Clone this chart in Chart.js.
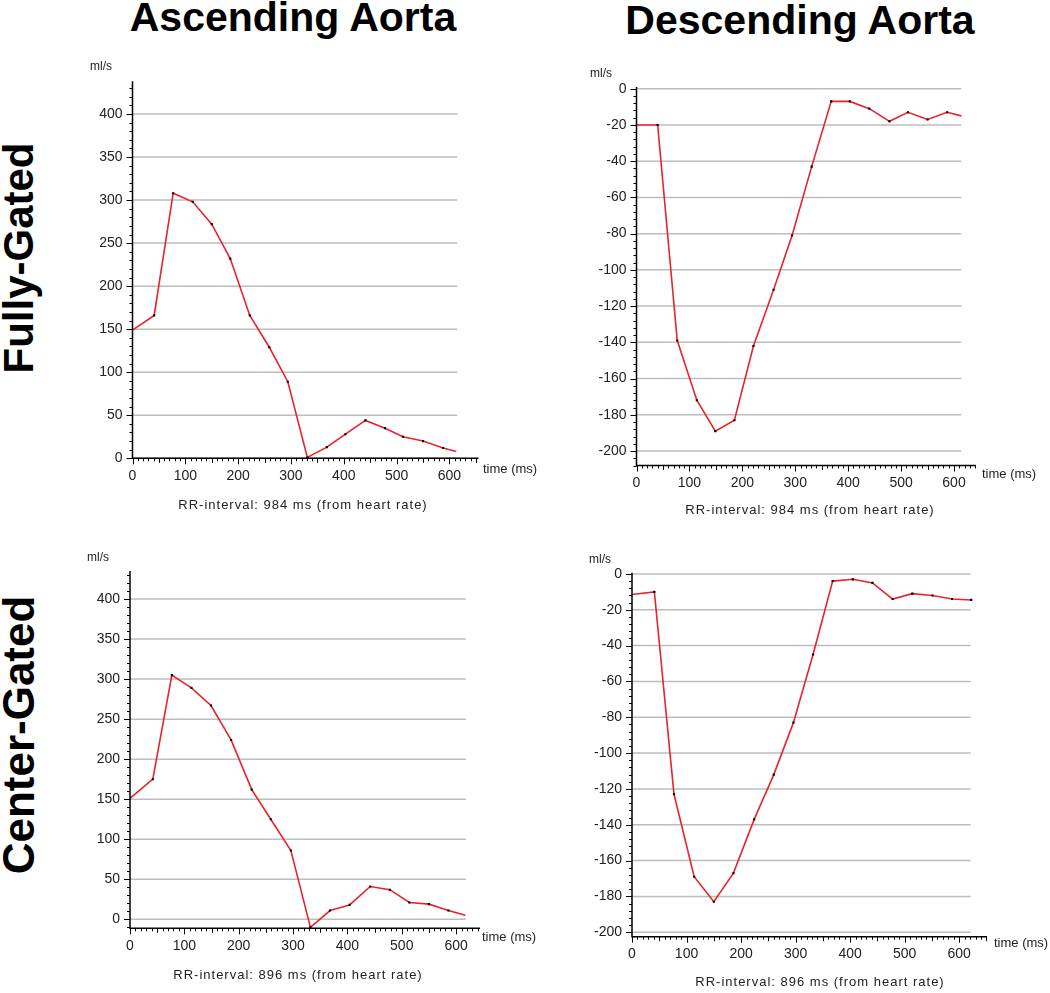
<!DOCTYPE html>
<html>
<head>
<meta charset="utf-8">
<script src="https://cdn.jsdelivr.net/npm/chart.js@4/dist/chart.umd.min.js"></script>
<style>
  body { margin: 0; background: #fff; width: 1050px; height: 993px; position: relative; overflow: hidden; }
  canvas { position: absolute; }
  .title { position: absolute; font: bold 41px "Liberation Sans", Arial, sans-serif; line-height: 41px; white-space: nowrap; color: #000; transform: translateX(-50%); }
  .row { position: absolute; font: bold 42px "Liberation Sans", Arial, sans-serif; line-height: 42px; white-space: nowrap; color: #000; transform: translate(-50%, -50%) rotate(-90deg); }
</style>
</head>
<body>
<div class="title" style="left:293px; top:-3px;">Ascending Aorta</div>
<div class="title" style="left:800px; top:0px;">Descending Aorta</div>
<div class="row" style="left:19px; top:258px;">Fully-Gated</div>
<div class="row" style="left:19px; top:735px; font-size:44px;">Center-Gated</div>

<canvas id="ascFull" width="520" height="475" style="left:40px; top:50px;"></canvas>
<canvas id="descFull" width="490" height="475" style="left:560px; top:50px;"></canvas>
<canvas id="ascCenter" width="520" height="468" style="left:40px; top:525px;"></canvas>
<canvas id="descCenter" width="490" height="468" style="left:560px; top:525px;"></canvas>

<script>
'use strict'

// tick labels
var timeTicks = [0, 100, 200, 300, 400, 500, 600];
var ascTicks = [0, 50, 100, 150, 200, 250, 300, 350, 400];
var descTicks = [0, -20, -40, -60, -80, -100, -120, -140, -160, -180, -200];

// Ascending aorta, fully-gated (ml/s)
var ascFullTime = [41, 77, 114, 150, 185, 222, 259, 294, 331, 368, 403, 441, 478, 512, 550, 588];
var ascFullFlow = [166, 308, 298, 272, 232, 166, 129, 89, 1, 13, 28, 44, 35, 25, 20, 12];
var ascFullEnds = [[0, 149], [613, 8]];

// Descending aorta, fully-gated
var descFullTime = [40, 77, 114, 149, 185, 221, 259, 294, 331, 368, 403, 440, 478, 513, 550, 587];
var descFullFlow = [-20, -139, -172, -189, -183, -142, -111, -81, -43, -7, -7, -11, -18, -13, -17, -13];
var descFullEnds = [[0, -20], [614, -15]];

// Ascending aorta, center-gated
var ascCenterTime = [42, 77, 113, 149, 186, 224, 259, 296, 332, 368, 404, 442, 478, 514, 550, 586];
var ascCenterFlow = [175, 305, 289, 267, 224, 162, 125, 86, -10, 11, 18, 41, 37, 21, 19, 11];
var ascCenterEnds = [[0, 151], [617, 5]];

// Descending aorta, center-gated
var descCenterTime = [41, 77, 114, 150, 186, 224, 260, 296, 332, 368, 405, 441, 478, 514, 551, 587, 622];
var descCenterFlow = [-10, -123, -169, -183, -167, -137, -112, -83, -45, -4, -3, -5, -14, -11, -12, -14, -14.5];
var descCenterEnds = [[0, -11.5], [622, -14.5]];

var FONT = '"Liberation Sans", Arial, sans-serif';

// draws grid lines, axis lines, tick marks and the extra labels
var framePlugin = {
    id: 'frame',
    beforeDatasetsDraw: function(chart, args, o) {
        var ctx = chart.ctx, x = chart.scales.x, y = chart.scales.y;
        ctx.save();
        ctx.strokeStyle = '#bdbdbd';
        ctx.lineWidth = 1.5;
        var x0 = x.getPixelForValue(0), x1 = x.getPixelForValue(o.gridEnd);
        o.yTicks.forEach(function(v) {
            var py = y.getPixelForValue(v);
            ctx.beginPath(); ctx.moveTo(x0, py); ctx.lineTo(x1, py); ctx.stroke();
        });
        ctx.restore();
    },
    afterDraw: function(chart, args, o) {
        var ctx = chart.ctx, x = chart.scales.x, y = chart.scales.y;
        var a = chart.chartArea;
        ctx.save();
        ctx.strokeStyle = '#000';
        ctx.lineWidth = 1.5;
        ctx.beginPath();
        ctx.moveTo(a.left, a.top); ctx.lineTo(a.left, a.bottom); ctx.lineTo(a.right, a.bottom);
        ctx.stroke();

        ctx.lineWidth = 1;
        // y ticks
        var v, p, len;
        var start = Math.ceil(y.min / o.yMinor) * o.yMinor;
        for (v = start; v <= y.max; v += o.yMinor) {
            p = Math.round(y.getPixelForValue(v)) + 0.5;
            len = o.yTicks.indexOf(v) >= 0 ? 6 : 3;
            ctx.beginPath(); ctx.moveTo(a.left - len, p); ctx.lineTo(a.left, p); ctx.stroke();
        }
        // x ticks
        for (v = 0; v <= x.max; v += 10) {
            p = Math.round(x.getPixelForValue(v)) + 0.5;
            len = v % 100 === 0 ? 6 : (v % 50 === 0 ? 4.5 : 3);
            ctx.beginPath(); ctx.moveTo(p, a.bottom); ctx.lineTo(p, a.bottom + len); ctx.stroke();
        }

        ctx.fillStyle = '#222';
        ctx.textBaseline = 'middle';
        ctx.textAlign = 'left';
        ctx.font = '12px ' + FONT;
        ctx.fillText('ml/s', o.mls[0] - o.ox, o.mls[1] - o.oy);
        ctx.font = '13px ' + FONT;
        ctx.fillText('time (ms)', o.time[0] - o.ox, o.time[1] - o.oy);
        ctx.textAlign = 'center';
        if ('letterSpacing' in ctx) ctx.letterSpacing = '1px';
        ctx.fillText(o.rr, o.rrPos[0] - o.ox, o.rrPos[1] - o.oy);
        ctx.restore();
    }
};

function points(ts, vs) {
    return ts.map(function(t, i) { return {x: t, y: vs[i]}; });
}

function makePanel(id, p) {
    var canvas = document.getElementById(id);
    var ox = parseFloat(canvas.style.left), oy = parseFloat(canvas.style.top);
    var dots = points(p.time, p.flow);
    var line = [{x: p.ends[0][0], y: p.ends[0][1]}].concat(dots);
    var last = p.ends[1];
    if (last[0] > p.time[p.time.length - 1]) line.push({x: last[0], y: last[1]});

    var tickFont = {family: FONT, size: 14};
    return new Chart(canvas, {
        type: 'scatter',
        data: {
            datasets: [{
                data: line,
                showLine: true,
                borderColor: '#e8232b',
                borderWidth: 1.6,
                pointRadius: 0,
                tension: 0,
                order: 2
            }, {
                data: dots,
                showLine: false,
                pointStyle: 'rect',
                pointRadius: 1.5,
                backgroundColor: '#000',
                borderWidth: 0,
                order: 1
            }]
        },
        options: {
            responsive: false,
            animation: false,
            events: [],
            layout: {padding: {top: p.area.T - oy, right: ox + canvas.width - p.area.R, left: 0, bottom: 0}},
            plugins: {
                legend: {display: false},
                tooltip: {enabled: false},
                frame: {
                    ox: ox, oy: oy,
                    gridEnd: p.gridEnd, yTicks: p.yTicks, yMinor: p.yMinor,
                    mls: p.mls, time: p.timePos, rr: p.rr, rrPos: p.rrPos
                }
            },
            scales: {
                x: {
                    type: 'linear',
                    min: 0, max: p.xMax,
                    grid: {display: false, drawTicks: false},
                    border: {display: false},
                    afterBuildTicks: function(s) { s.ticks = timeTicks.map(function(v) { return {value: v}; }); },
                    afterFit: function(s) { s.height = oy + canvas.height - p.area.B; },
                    ticks: {padding: 9, font: tickFont, color: '#222', maxRotation: 0, autoSkip: false}
                },
                y: {
                    type: 'linear',
                    min: p.yMin, max: p.yMax,
                    grid: {display: false, drawTicks: false},
                    border: {display: false},
                    afterBuildTicks: function(s) { s.ticks = p.yTicks.map(function(v) { return {value: v}; }); },
                    afterFit: function(s) { s.width = p.area.L - ox; },
                    ticks: {padding: 10, font: tickFont, color: '#222', autoSkip: false}
                }
            }
        },
        plugins: [framePlugin]
    });
}

makePanel('ascFull', {
    time: ascFullTime, flow: ascFullFlow, ends: ascFullEnds,
    area: {L: 132.5, R: 478.5, T: 81.3, B: 458.3},
    xMax: 655, yMin: 0, yMax: 438, yTicks: ascTicks, yMinor: 10, gridEnd: 615,
    mls: [90, 67], timePos: [483, 469], rr: 'RR-interval: 984 ms (from heart rate)', rrPos: [303, 505]
});

makePanel('descFull', {
    time: descFullTime, flow: descFullFlow, ends: descFullEnds,
    area: {L: 636.5, R: 975.7, T: 86.9, B: 465.5},
    xMax: 641, yMin: -208, yMax: 1, yTicks: descTicks, yMinor: 4, gridEnd: 614,
    mls: [590, 74], timePos: [982, 474], rr: 'RR-interval: 984 ms (from heart rate)', rrPos: [810, 510]
});

makePanel('ascCenter', {
    time: ascCenterTime, flow: ascCenterFlow, ends: ascCenterEnds,
    area: {L: 130, R: 480, T: 571, B: 928.3},
    xMax: 644, yMin: -11.2, yMax: 435, yTicks: ascTicks, yMinor: 10, gridEnd: 618,
    mls: [87, 558], timePos: [482, 937], rr: 'RR-interval: 896 ms (from heart rate)', rrPos: [298, 975]
});

makePanel('descCenter', {
    time: descCenterTime, flow: descCenterFlow, ends: descCenterEnds,
    area: {L: 632, R: 987, T: 572.7, B: 936.7},
    xMax: 651, yMin: -202.5, yMax: 0.7, yTicks: descTicks, yMinor: 4, gridEnd: 621,
    mls: [589, 560], timePos: [994, 943], rr: 'RR-interval: 896 ms (from heart rate)', rrPos: [820, 982]
});
</script>
</body>
</html>
